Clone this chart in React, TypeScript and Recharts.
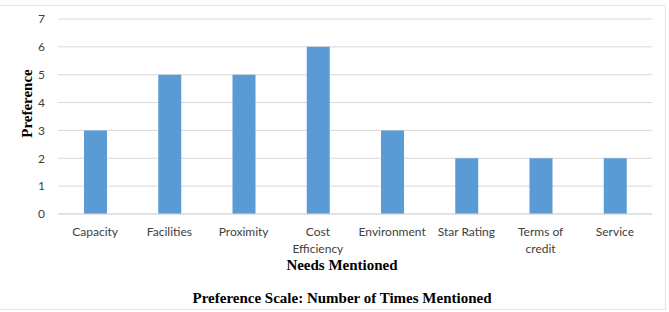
import React from 'react';
import { BarChart, Bar, XAxis, YAxis, CartesianGrid, Label } from 'recharts';

const categories = ['Capacity', 'Facilities', 'Proximity', 'Cost Efficiency', 'Environment', 'Star Rating', 'Terms of credit', 'Service'];
const preferenceValues = [3, 5, 5, 6, 3, 2, 2, 2];
const yTicks = [0, 1, 2, 3, 4, 5, 6, 7];

const data = categories.map((c, i) => ({ name: c, value: preferenceValues[i] }));

const TICK_FONT = 'Lato, "Open Sans", sans-serif';
const TITLE_FONT = '"Liberation Serif", "Times New Roman", serif';

const WrappedTick = (props: any) => {
  const { x, y, payload } = props;
  const label: string = payload.value;
  let lines = [label];
  if (label.length > 12) {
    const idx = label.lastIndexOf(' ');
    lines = [label.slice(0, idx), label.slice(idx + 1)];
  }
  return (
    <text x={x} y={y} textAnchor="middle" fill="#404040" fontFamily={TICK_FONT} fontSize={12}>
      {lines.map((l, i) => (
        <tspan key={i} x={x} dy={i === 0 ? 14 : 16.5}>{l}</tspan>
      ))}
    </text>
  );
};

export default function App() {
  return (
    <div style={{ position: 'absolute', left: 0, top: 0, width: 669, height: 312, background: '#fff' }}>
      <div style={{ position: 'absolute', left: 0, top: 5, width: 666, height: 305, border: '1px solid #E6E6E6', boxSizing: 'border-box', borderLeft: 'none' }} />
      <div style={{ position: 'absolute', left: 0, top: 0 }}>
        <BarChart width={669} height={312} data={data} margin={{ top: 19, right: 17, bottom: 38, left: 0 }}>
          <CartesianGrid vertical={false} stroke="#D9D9D9" strokeWidth={1} />
          <XAxis
            dataKey="name"
            interval={0}
            tickLine={false}
            axisLine={{ stroke: '#D9D9D9' }}
            tick={<WrappedTick />}
            height={60}
          >
            <Label
              value="Needs Mentioned"
              position="insideBottom"
              offset={4}
              dx={-13}
              style={{ fontFamily: TITLE_FONT, fontWeight: 'bold', fontSize: 15, fill: '#000' }}
            />
          </XAxis>
          <YAxis
            domain={[0, 7]}
            ticks={yTicks}
            interval={0}
            tickLine={false}
            axisLine={false}
            width={58}
            tickMargin={7}
            tick={{ fill: '#404040', fontFamily: TICK_FONT, fontSize: 12 }}
          >
            <Label
              value="Preference"
              angle={-90}
              position="insideLeft"
              offset={27}
              dy={-13}
              style={{ fontFamily: TITLE_FONT, fontWeight: 'bold', fontSize: 15, fill: '#000', textAnchor: 'middle' }}
            />
          </YAxis>
          <Bar dataKey="value" fill="#5B9BD5" barSize={23} isAnimationActive={false} />
        </BarChart>
      </div>
      <div
        style={{
          position: 'absolute',
          left: 0,
          width: 684,
          top: 290,
          textAlign: 'center',
          fontFamily: TITLE_FONT,
          fontWeight: 'bold',
          fontSize: 15,
          color: '#000',
          whiteSpace: 'nowrap',
        }}
      >
        Preference Scale: Number of Times Mentioned
      </div>
    </div>
  );
}
